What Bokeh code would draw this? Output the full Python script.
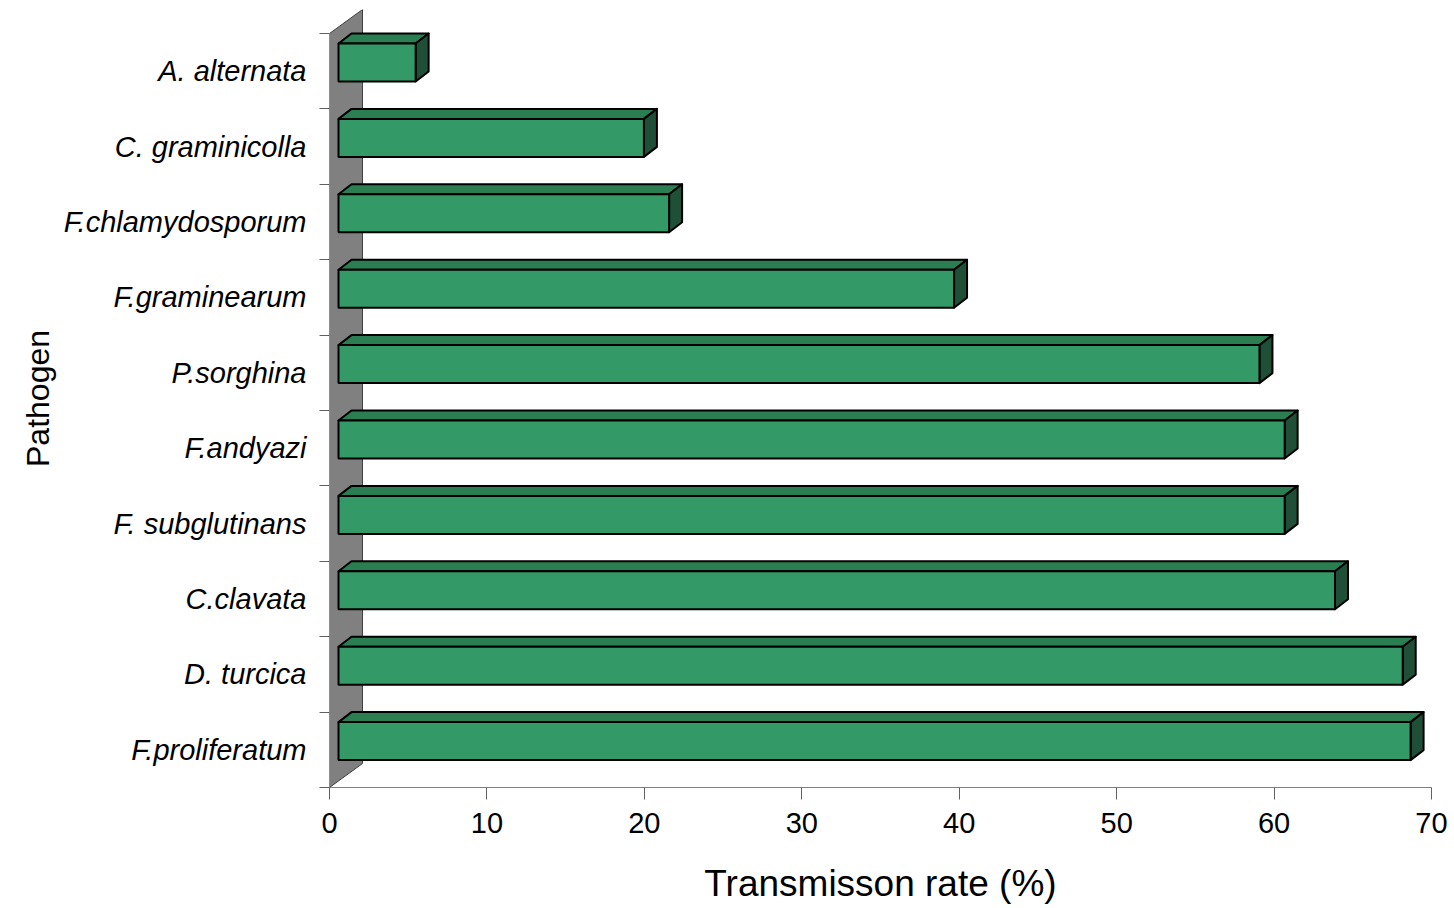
import numpy as np
from bokeh.plotting import figure
from bokeh.models import ColumnDataSource, FixedTicker, Range1d
from bokeh.embed import file_html
from bokeh.resources import INLINE

# ---- data (bottom to top) ----
pathogens = ["F.proliferatum", "D. turcica", "C.clavata", "F. subglutinans", "F.andyazi",
             "P.sorghina", "F.graminearum", "F.chlamydosporum", "C. graminicolla", "A. alternata"]
rates = [68.1, 67.6, 63.3, 60.1, 60.1, 58.5, 39.1, 21.0, 19.4, 4.9]
x_ticks = [0, 10, 20, 30, 40, 50, 60, 70]

# ---- 3D style constants (data units) ----
PXX = 1102 / 70.0      # px per x unit
PXY = 778 / 10.32      # px per y unit
front_dx = 9 / PXX
front_dy = 8.7 / PXY
depth_dx = 13 / PXX
depth_dy = 10 / PXY
bar_h = 38 / PXY
wall_dx = 33 / PXX
wall_dy = 24 / PXY

FONT = "Liberation Sans"

p = figure(width=1454, height=908, output_backend="svg", toolbar_location=None,
           x_range=Range1d(0, 70), y_range=Range1d(0, 10 + wall_dy),
           min_border_left=329, min_border_top=9, min_border_right=23, min_border_bottom=121)
p.outline_line_color = None
p.grid.visible = False
p.background_fill_color = "white"

# wall
p.patch([0, 0, wall_dx, wall_dx], [0, 10, 10 + wall_dy, wall_dy],
        fill_color="#808080", line_color="#404040", line_width=1)

n = len(pathogens)
yc = np.arange(n) + 0.5
v = np.array(rates)
x0 = np.full(n, front_dx)
x1 = x0 + v
b = yc + front_dy - bar_h / 2
t = yc + front_dy + bar_h / 2

top_xs = [[x0[i], x0[i] + depth_dx, x1[i] + depth_dx, x1[i]] for i in range(n)]
top_ys = [[t[i], t[i] + depth_dy, t[i] + depth_dy, t[i]] for i in range(n)]
side_xs = [[x1[i], x1[i], x1[i] + depth_dx, x1[i] + depth_dx] for i in range(n)]
side_ys = [[b[i], t[i], t[i] + depth_dy, b[i] + depth_dy] for i in range(n)]

p.patches(xs="xs", ys="ys", source=ColumnDataSource(dict(xs=top_xs, ys=top_ys)),
          fill_color="#2B7D52", line_color="black", line_width=2, line_join="round")
p.patches(xs="xs", ys="ys", source=ColumnDataSource(dict(xs=side_xs, ys=side_ys)),
          fill_color="#1F5037", line_color="black", line_width=2, line_join="round")
p.quad(left="l", right="r", bottom="b", top="t",
       source=ColumnDataSource(dict(l=x0, r=x1, b=b, t=t)),
       fill_color="#339966", line_color="black", line_width=2)

# x axis
xa = p.xaxis[0]
xa.ticker = FixedTicker(ticks=x_ticks)
xa.axis_line_color = "#808080"
xa.major_tick_line_color = "#606060"
xa.major_tick_out = 12
xa.major_tick_in = 0
xa.minor_tick_line_color = None
xa.major_label_text_font = FONT
xa.major_label_text_font_size = "29px"
xa.major_label_text_color = "black"
xa.major_label_standoff = 13
xa.axis_label = "Transmisson rate (%)"
xa.axis_label_text_font = FONT
xa.axis_label_text_font_size = "37px"
xa.axis_label_text_font_style = "normal"
xa.axis_label_text_color = "black"
xa.axis_label_standoff = 27

# y axis
ya = p.yaxis[0]
ya.ticker = FixedTicker(ticks=list(yc), minor_ticks=list(range(n + 1)))
ya.major_label_overrides = {float(yc[i]): pathogens[i] for i in range(n)}
ya.axis_line_color = None
ya.major_tick_line_color = None
ya.major_tick_out = 0
ya.major_tick_in = 0
ya.minor_tick_line_color = "#606060"
ya.minor_tick_out = 10
ya.minor_tick_in = 0
ya.major_label_text_font = FONT
ya.major_label_text_font_size = "29px"
ya.major_label_text_font_style = "italic"
ya.major_label_text_color = "black"
ya.major_label_standoff = 13
ya.axis_label = "Pathogen"
ya.axis_label_text_font = FONT
ya.axis_label_text_font_size = "32px"
ya.axis_label_text_font_style = "normal"
ya.axis_label_text_color = "black"
ya.axis_label_standoff = 5

open("out.html", "w").write(file_html(p, INLINE))
